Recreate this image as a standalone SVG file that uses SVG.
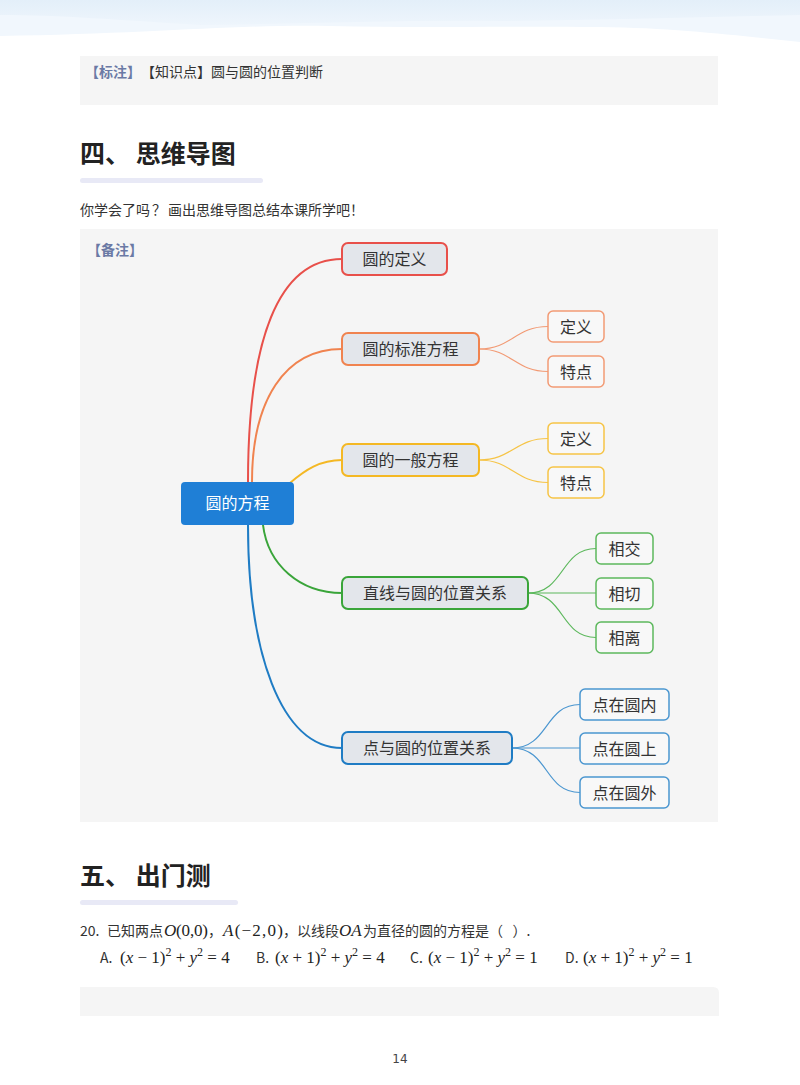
<svg xmlns="http://www.w3.org/2000/svg" width="800" height="1085" viewBox="0 0 800 1085">
<defs>
<style>
.cjk{font-family:"Noto Sans CJK SC","Noto Sans",sans-serif;fill:#333}
.h{font-size:25px;font-weight:700;fill:#222}
.t14{font-size:14px}
.lbl{font-size:14px;font-weight:700;fill:#6b7aa5}
.node{font-family:"Noto Sans CJK SC","Noto Sans",sans-serif;font-size:16px;fill:#333;text-anchor:middle}
.math{font-family:"Liberation Serif","DejaVu Serif",serif;font-size:17px;fill:#222}
.conn path{fill:none}
.l1{stroke-width:2}
.l2{stroke-width:1.2}
.box1{stroke-width:2;fill:#e3e6eb}
.box2{stroke-width:1.5;fill:#f8f8f8}
</style>
<linearGradient id="sky" x1="0" y1="0" x2="0" y2="1">
<stop offset="0" stop-color="#e3eff9"/>
<stop offset="1" stop-color="#eef5fc"/>
</linearGradient>
</defs>
<rect x="0" y="0" width="800" height="1085" fill="#ffffff"/>
<!-- header wave -->
<path d="M0,0 H800 V42 C740,36 680,28 600,27 C500,26 420,28 330,26 C240,24 150,34 0,36 Z" fill="#f1f7fd"/>
<path d="M0,0 H800 V15 C700,17 600,20 500,21 C400,20 300,24 200,25 C120,20 60,15 0,15 Z" fill="url(#sky)"/>

<!-- box 1 -->
<rect x="80" y="56" width="638" height="49" fill="#f5f5f5"/>
<text class="cjk lbl" x="85" y="77">【标注】</text>
<text class="cjk t14" x="141" y="77">【知识点】圆与圆的位置判断</text>

<!-- heading 4 -->
<text class="cjk h" x="80" y="163">四、 思维导图</text>
<rect x="80" y="178" width="183" height="5" rx="2.5" fill="#e8e9f6"/>
<text class="cjk t14" x="80" y="215">你学会了吗<tspan font-family="Noto Sans CJK SC" dx="2">？</tspan><tspan dx="2">画出思维导图总结本课所学吧！</tspan></text>

<!-- box 2 -->
<rect x="80" y="229" width="638" height="593" fill="#f5f5f5"/>
<text class="cjk lbl" x="87" y="255">【备注】</text>

<g id="connectors" class="conn">
<path class="l1" stroke="#e8504a" d="M248,482 C248,340 278,259 342,259"/>
<path class="l1" stroke="#f0834f" d="M252,482 C252,400 285,349 342,349"/>
<path class="l1" stroke="#f4b824" d="M290,483 C305,470 320,460 342,460"/>
<path class="l1" stroke="#3aa53a" d="M263,525 C268,565 300,593 342,593"/>
<path class="l1" stroke="#1f7cc4" d="M248,525 C248,650 280,748 342,748"/>
<path class="l2" stroke="#f29a74" d="M479,349 C512,349 515,326.5 548,326.5"/>
<path class="l2" stroke="#f29a74" d="M479,349 C512,349 515,371.5 548,371.5"/>
<path class="l2" stroke="#f6c446" d="M479,460 C512,460 515,438.5 548,438.5"/>
<path class="l2" stroke="#f6c446" d="M479,460 C512,460 515,482.5 548,482.5"/>
<path class="l2" stroke="#5cb85c" d="M528,593 C565,593 560,548.5 596,548.5"/>
<path class="l2" stroke="#5cb85c" d="M528,593 L596,593"/>
<path class="l2" stroke="#5cb85c" d="M528,593 C565,593 560,637.5 596,637.5"/>
<path class="l2" stroke="#4a96d0" d="M512,748 C549,748 544,704.5 580,704.5"/>
<path class="l2" stroke="#4a96d0" d="M512,748 L580,748"/>
<path class="l2" stroke="#4a96d0" d="M512,748 C549,748 544,792.5 580,792.5"/>
</g>

<g id="root">
<rect x="181" y="482" width="113" height="43" rx="4" fill="#1f7fd6"/>
<text class="node" x="237.5" y="509" style="fill:#ffffff">圆的方程</text>
</g>
<g id="n-def">
<rect class="box1" x="342" y="243" width="105" height="32" rx="6" stroke="#e8504a"/>
<text class="node" x="394.5" y="265">圆的定义</text>
</g>
<g id="n-std">
<rect class="box1" x="342" y="333" width="137" height="32" rx="6" stroke="#f0834f"/>
<text class="node" x="410.5" y="355">圆的标准方程</text>
</g>
<g id="n-gen">
<rect class="box1" x="342" y="444" width="137" height="32" rx="6" stroke="#f4b824"/>
<text class="node" x="410.5" y="466">圆的一般方程</text>
</g>
<g id="n-line">
<rect class="box1" x="342" y="577" width="186" height="32" rx="6" stroke="#3aa53a"/>
<text class="node" x="435" y="599">直线与圆的位置关系</text>
</g>
<g id="n-point">
<rect class="box1" x="342" y="732" width="170" height="32" rx="6" stroke="#1f7cc4"/>
<text class="node" x="427" y="754">点与圆的位置关系</text>
</g>
<g id="c-std-def">
<rect class="box2" x="548" y="311" width="56" height="31" rx="5" stroke="#f29a74"/>
<text class="node" x="576" y="332.5">定义</text>
</g>
<g id="c-std-feat">
<rect class="box2" x="548" y="356" width="56" height="31" rx="5" stroke="#f29a74"/>
<text class="node" x="576" y="377.5">特点</text>
</g>
<g id="c-gen-def">
<rect class="box2" x="548" y="423" width="56" height="31" rx="5" stroke="#f6c446"/>
<text class="node" x="576" y="444.5">定义</text>
</g>
<g id="c-gen-feat">
<rect class="box2" x="548" y="467" width="56" height="31" rx="5" stroke="#f6c446"/>
<text class="node" x="576" y="488.5">特点</text>
</g>
<g id="c-line-1">
<rect class="box2" x="596" y="533" width="57" height="31" rx="5" stroke="#5cb85c"/>
<text class="node" x="624.5" y="554.5">相交</text>
</g>
<g id="c-line-2">
<rect class="box2" x="596" y="578" width="57" height="31" rx="5" stroke="#5cb85c"/>
<text class="node" x="624.5" y="599.5">相切</text>
</g>
<g id="c-line-3">
<rect class="box2" x="596" y="622" width="57" height="31" rx="5" stroke="#5cb85c"/>
<text class="node" x="624.5" y="643.5">相离</text>
</g>
<g id="c-pt-1">
<rect class="box2" x="580" y="689" width="89" height="31" rx="5" stroke="#4a96d0"/>
<text class="node" x="624.5" y="710.5">点在圆内</text>
</g>
<g id="c-pt-2">
<rect class="box2" x="580" y="733" width="89" height="31" rx="5" stroke="#4a96d0"/>
<text class="node" x="624.5" y="754.5">点在圆上</text>
</g>
<g id="c-pt-3">
<rect class="box2" x="580" y="777" width="89" height="31" rx="5" stroke="#4a96d0"/>
<text class="node" x="624.5" y="798.5">点在圆外</text>
</g>

<!-- heading 5 -->
<text class="cjk h" x="80" y="885">五、 出门测</text>
<rect x="80" y="900" width="158" height="5" rx="2.5" fill="#e8e9f6"/>

<!-- question -->
<text class="cjk t14" x="80" y="936">20.</text>
<text class="cjk t14" x="107" y="936">已知两点</text>
<text class="math" x="164" y="936" textLength="44" lengthAdjust="spacing"><tspan font-style="italic">O</tspan>(0,0)</text>
<text class="cjk t14" x="208" y="936">，</text>
<text class="math" x="223" y="936" textLength="60" lengthAdjust="spacing"><tspan font-style="italic">A</tspan>(−2,0)</text>
<text class="cjk t14" x="283" y="936">，以线段</text>
<text class="math" x="339" y="936"><tspan font-style="italic">OA</tspan></text>
<text class="cjk t14" x="363" y="936">为直径的圆的方程是（&#160;&#160;&#160;）.</text>

<!-- options -->
<text class="cjk t14" x="100" y="963">A.</text>
<text class="math" x="120" y="963">(<tspan font-style="italic">x</tspan> − 1)<tspan font-size="12" dy="-7">2</tspan><tspan dy="7"> + </tspan><tspan font-style="italic">y</tspan><tspan font-size="12" dy="-7">2</tspan><tspan dy="7"> = 4</tspan></text>
<text class="cjk t14" x="256" y="963">B.</text>
<text class="math" x="275" y="963">(<tspan font-style="italic">x</tspan> + 1)<tspan font-size="12" dy="-7">2</tspan><tspan dy="7"> + </tspan><tspan font-style="italic">y</tspan><tspan font-size="12" dy="-7">2</tspan><tspan dy="7"> = 4</tspan></text>
<text class="cjk t14" x="410" y="963">C.</text>
<text class="math" x="428" y="963">(<tspan font-style="italic">x</tspan> − 1)<tspan font-size="12" dy="-7">2</tspan><tspan dy="7"> + </tspan><tspan font-style="italic">y</tspan><tspan font-size="12" dy="-7">2</tspan><tspan dy="7"> = 1</tspan></text>
<text class="cjk t14" x="565" y="963">D.</text>
<text class="math" x="583" y="963">(<tspan font-style="italic">x</tspan> + 1)<tspan font-size="12" dy="-7">2</tspan><tspan dy="7"> + </tspan><tspan font-style="italic">y</tspan><tspan font-size="12" dy="-7">2</tspan><tspan dy="7"> = 1</tspan></text>

<!-- box 3 -->
<path d="M80,987 H713 Q719,987 719,993 V1016 H80 Z" fill="#f5f5f5"/>

<text x="400" y="1063" text-anchor="middle" style="font-family:'DejaVu Sans','Noto Sans',sans-serif;font-size:12px;fill:#444">14</text>
</svg>
